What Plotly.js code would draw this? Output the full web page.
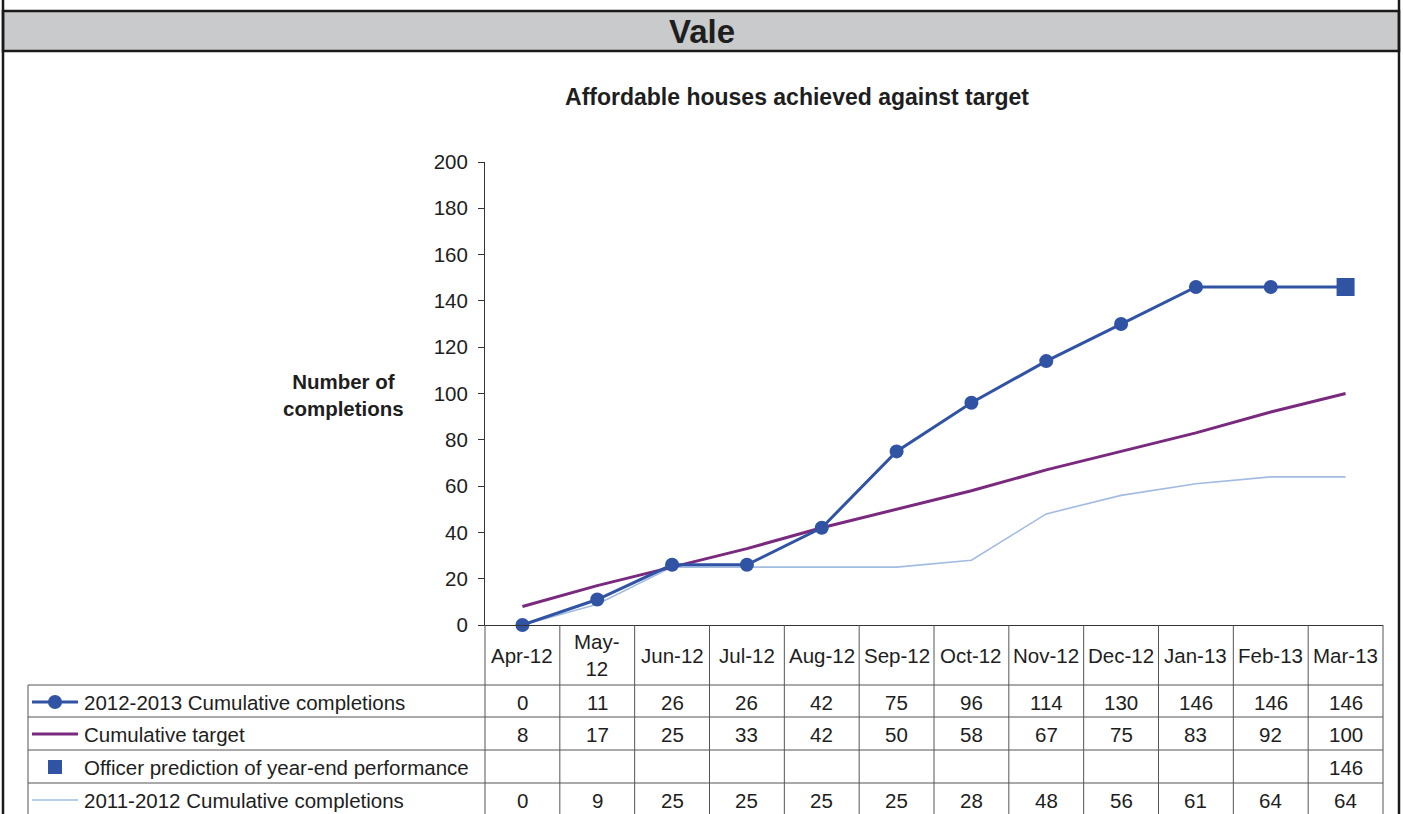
<!DOCTYPE html>
<html>
<head>
<meta charset="utf-8">
<script src="https://cdn.plot.ly/plotly-3.0.1.min.js"></script>
<style>html,body{margin:0;padding:0;background:#fff;}#chart{width:1403px;height:814px;}</style>
</head>
<body>
<div id="chart"></div>
<script>
var months = ['Apr-12','May-12','Jun-12','Jul-12','Aug-12','Sep-12','Oct-12','Nov-12','Dec-12','Jan-13','Feb-13','Mar-13'];
var monthLabels = ['Apr-12','May-<br>12','Jun-12','Jul-12','Aug-12','Sep-12','Oct-12','Nov-12','Dec-12','Jan-13','Feb-13','Mar-13'];
var completions1213 = [0, 11, 26, 26, 42, 75, 96, 114, 130, 146, 146, 146];
var target = [8, 17, 25, 33, 42, 50, 58, 67, 75, 83, 92, 100];
var prediction = [null, null, null, null, null, null, null, null, null, null, null, 146];
var completions1112 = [0, 9, 25, 25, 25, 25, 28, 48, 56, 61, 64, 64];
var seriesNames = ['2012-2013 Cumulative completions', 'Cumulative target', 'Officer prediction of year-end performance', '2011-2012 Cumulative completions'];
var yTicks = [0, 20, 40, 60, 80, 100, 120, 140, 160, 180, 200];

var W = 1403, H = 814;
var L = 485, R = 1383, T = 162, B = 625;
function px(x) { return (x - L) / (R - L); }
function py(y) { return (B - y) / (B - T); }

var FONT = 'Liberation Sans, Arial, Helvetica, sans-serif';
var TXT = '#1e1e1e';
var BLUE = '#3153a4', PURPLE = '#7a2a7e', LIGHT = '#a2bbe0';
var GRID = '#555555';
var FS = 20.5;

var traces = [
  {x: months, y: completions1112, type: 'scatter', mode: 'lines', name: seriesNames[3],
   line: {color: LIGHT, width: 1.6}, cliponaxis: false},
  {x: months, y: target, type: 'scatter', mode: 'lines', name: seriesNames[1],
   line: {color: PURPLE, width: 3}, cliponaxis: false},
  {x: months, y: completions1213, type: 'scatter', mode: 'lines+markers', name: seriesNames[0],
   line: {color: BLUE, width: 3}, marker: {symbol: 'circle', size: 14, color: BLUE}, cliponaxis: false},
  {x: months, y: prediction, type: 'scatter', mode: 'markers', name: seriesNames[2],
   marker: {symbol: 'square', size: 18, color: BLUE}, cliponaxis: false}
];

var shapes = [];
var annotations = [];

// Outer frame and header band
shapes.push({type: 'rect', xref: 'paper', yref: 'paper', x0: px(3), x1: px(1399), y0: py(11), y1: py(51),
  fillcolor: '#c9cacc', line: {color: '#1a1a1a', width: 2.5}, layer: 'below'});
shapes.push({type: 'line', xref: 'paper', yref: 'paper', x0: px(3), x1: px(3), y0: py(-5), y1: py(820), line: {color: '#1a1a1a', width: 2.5}});
shapes.push({type: 'line', xref: 'paper', yref: 'paper', x0: px(1399), x1: px(1399), y0: py(-5), y1: py(820), line: {color: '#1a1a1a', width: 2.5}});
annotations.push({xref: 'paper', yref: 'paper', x: px(702), y: py(32), text: '<b>Vale</b>', showarrow: false,
  xanchor: 'center', yanchor: 'middle', font: {family: FONT, size: 33, color: TXT}});

// Y-axis title
annotations.push({xref: 'paper', yref: 'paper', x: px(343), y: py(395), text: '<b>Number of<br>completions</b>', showarrow: false,
  xanchor: 'center', yanchor: 'middle', align: 'center', font: {family: FONT, size: 20.5, color: TXT}});

// Data table grid
var rowLines = [685, 717, 750, 783];
rowLines.forEach(function (yy) {
  shapes.push({type: 'line', xref: 'paper', yref: 'paper', x0: px(28), x1: 1, y0: py(yy), y1: py(yy), line: {color: GRID, width: 1}});
});
shapes.push({type: 'line', xref: 'paper', yref: 'paper', x0: px(28), x1: px(28), y0: py(685), y1: py(830), line: {color: GRID, width: 1}});
shapes.push({type: 'line', xref: 'paper', yref: 'paper', x0: 0, x1: 0, y0: py(625), y1: py(830), line: {color: GRID, width: 1}});
shapes.push({type: 'line', xref: 'paper', yref: 'paper', x0: 1, x1: 1, y0: py(625), y1: py(830), line: {color: GRID, width: 1}});
for (var i = 0; i < months.length - 1; i++) {
  shapes.push({type: 'line', xref: 'x', yref: 'paper', x0: i + 0.5, x1: i + 0.5, y0: py(625), y1: py(830), line: {color: GRID, width: 1}});
}

// Header cells (category labels)
months.forEach(function (m, i) {
  annotations.push({xref: 'x', yref: 'paper', x: m, y: py(655), text: monthLabels[i], showarrow: false,
    xanchor: 'center', yanchor: 'middle', align: 'center', font: {family: FONT, size: FS, color: TXT}});
});

// Table rows
var rowCenters = [702, 734, 767, 800];
var rowData = [completions1213, target, prediction, completions1112];
rowData.forEach(function (arr, r) {
  annotations.push({xref: 'paper', yref: 'paper', x: px(82), y: py(rowCenters[r]), text: seriesNames[r], showarrow: false,
    xanchor: 'left', yanchor: 'middle', font: {family: FONT, size: FS, color: TXT}});
  arr.forEach(function (v, i) {
    if (v === null) return;
    annotations.push({xref: 'x', yref: 'paper', x: months[i], y: py(rowCenters[r]), text: String(v), showarrow: false,
      xanchor: 'center', yanchor: 'middle', font: {family: FONT, size: FS, color: TXT}});
  });
});

// Legend glyphs in the label column
shapes.push({type: 'line', xref: 'paper', yref: 'paper', x0: px(32), x1: px(78), y0: py(702), y1: py(702), line: {color: BLUE, width: 3}});
shapes.push({type: 'circle', xref: 'paper', yref: 'paper', x0: px(48), x1: px(62), y0: py(695), y1: py(709), fillcolor: BLUE, line: {color: BLUE, width: 0}});
shapes.push({type: 'line', xref: 'paper', yref: 'paper', x0: px(32), x1: px(78), y0: py(734), y1: py(734), line: {color: PURPLE, width: 3}});
shapes.push({type: 'rect', xref: 'paper', yref: 'paper', x0: px(48), x1: px(62), y0: py(760), y1: py(774), fillcolor: BLUE, line: {color: BLUE, width: 0}});
shapes.push({type: 'line', xref: 'paper', yref: 'paper', x0: px(32), x1: px(78), y0: py(800), y1: py(800), line: {color: LIGHT, width: 1.6}});

var layout = {
  width: W, height: H,
  margin: {l: L, r: W - R, t: T, b: H - B, pad: 0},
  paper_bgcolor: '#ffffff', plot_bgcolor: '#ffffff',
  showlegend: false,
  title: {text: '<b>Affordable houses achieved against target</b>', xref: 'container', yref: 'container',
    x: 797 / W, y: 1 - 97 / H, xanchor: 'center', yanchor: 'middle', font: {family: FONT, size: 23, color: TXT}},
  xaxis: {type: 'category', categoryorder: 'array', categoryarray: months, range: [-0.5, months.length - 0.5],
    showline: true, linecolor: '#333333', linewidth: 1, showgrid: false, zeroline: false,
    ticks: '', showticklabels: false, fixedrange: true},
  yaxis: {range: [0, 200], tickvals: yTicks, ticktext: yTicks.map(String),
    showline: true, linecolor: '#333333', linewidth: 1, showgrid: false, zeroline: false,
    ticks: 'outside', ticklen: 6, tickcolor: '#333333', ticklabelstandoff: 6,
    tickfont: {family: FONT, size: FS, color: TXT}, fixedrange: true},
  shapes: shapes,
  annotations: annotations,
  font: {family: FONT, color: TXT}
};

Plotly.newPlot('chart', traces, layout, {displayModeBar: false, staticPlot: true});
</script>
</body>
</html>
